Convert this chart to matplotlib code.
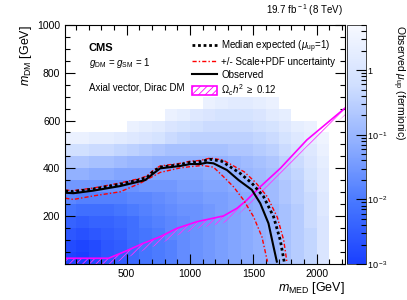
import numpy as np
import matplotlib
matplotlib.use("Agg")
import matplotlib.pyplot as plt
from matplotlib.colors import LogNorm, LinearSegmentedColormap
from matplotlib.lines import Line2D
from matplotlib.patches import Patch
from matplotlib.ticker import MultipleLocator, LogLocator, FixedLocator, FixedFormatter

plt.rcParams['font.family'] = ['Liberation Sans', 'DejaVu Sans']
plt.rcParams['mathtext.fontset'] = 'custom'
plt.rcParams['mathtext.rm'] = 'Liberation Sans'
plt.rcParams['mathtext.it'] = 'Liberation Sans:italic'
plt.rcParams['hatch.linewidth'] = 0.6

# bin edges of the observed mu_up map
med_edges = np.arange(0, 2101, 100)
dm_edges = np.arange(0, 701, 50)

# log10(mu_up), rows from m_DM 650-700 (top) down to 0-50 (bottom), nan = empty
N = np.nan
log_mu = [
    [N, N, N, N, N, N, N, N, N, N, N, 0.4, 0.3, 0.2, 0.2, 0.3, 0.4, N, N, N, N],
    [N, N, N, N, N, N, N, N, 0.4, 0.3, 0.1, 0.0, -0.1, -0.1, -0.1, 0.0, 0.2, 0.3, N, N, N],
    [N, N, N, N, N, 0.4, 0.3, 0.2, 0.0, -0.1, -0.2, -0.3, -0.3, -0.3, -0.3, -0.2, -0.1, 0.1, 0.3, 0.4, N],
    [0.4, 0.4, 0.3, 0.3, 0.2, 0.1, 0.0, -0.1, -0.3, -0.4, -0.5, -0.5, -0.5, -0.5, -0.5, -0.4, -0.3, -0.1, 0.1, 0.3, 0.5],
    [-0.2, -0.2, -0.3, -0.3, -0.4, -0.5, -0.6, -0.7, -0.8, -0.8, -0.8, -0.8, -0.8, -0.7, -0.7, -0.6, -0.5, -0.3, -0.1, 0.1, 0.4],
    [-0.7, -0.7, -0.8, -0.8, -0.9, -1.0, -1.0, -1.1, -1.1, -1.1, -1.1, -1.1, -1.1, -1.0, -0.9, -0.8, -0.7, -0.5, -0.3, 0.0, 0.3],
    [-1.1, -1.1, -1.2, -1.2, -1.3, -1.3, -1.3, -1.3, -1.3, -1.3, -1.3, -1.2, -1.2, -1.1, -1.0, -0.9, -0.8, -0.6, -0.4, -0.1, 0.2],
    [-1.5, -1.5, -1.5, -1.6, -1.6, -1.6, -1.5, -1.5, -1.5, -1.4, -1.4, -1.3, -1.3, -1.2, -1.1, -1.0, -0.9, -0.7, -0.5, -0.2, 0.2],
    [-1.8, -1.9, -1.9, -1.9, -1.9, -1.8, -1.8, -1.7, -1.6, -1.5, -1.5, -1.4, -1.4, -1.3, -1.2, -1.1, -0.9, -0.7, -0.5, -0.3, 0.1],
    [-2.1, -2.2, -2.2, -2.2, -2.1, -2.0, -1.9, -1.8, -1.7, -1.6, -1.6, -1.5, -1.4, -1.3, -1.2, -1.1, -1.0, -0.8, -0.6, -0.3, 0.1],
    [-2.4, -2.5, -2.4, -2.4, -2.3, -2.2, -2.0, -1.9, -1.8, -1.7, -1.6, -1.5, -1.4, -1.3, -1.2, -1.1, -1.0, -0.8, -0.6, -0.3, 0.0],
    [-2.6, -2.7, -2.6, -2.5, -2.4, -2.2, -2.1, -2.0, -1.8, -1.7, -1.6, -1.5, -1.4, -1.3, -1.2, -1.1, -1.0, -0.8, -0.6, -0.4, 0.0],
    [-2.8, -2.9, -2.8, -2.6, -2.5, -2.3, -2.1, -2.0, -1.9, -1.7, -1.6, -1.5, -1.4, -1.3, -1.2, -1.1, -1.0, -0.8, -0.6, -0.4, 0.0],
    [-2.9, -3.0, -2.8, -2.6, -2.5, -2.3, -2.1, -2.0, -1.9, -1.7, -1.6, -1.5, -1.4, -1.3, -1.2, -1.1, -1.0, -0.8, -0.6, -0.4, 0.0],
]

# observed limit contour
obs_med = [16, 81, 240, 450, 647, 713, 765, 923, 1002, 1081, 1134, 1186, 1292, 1384, 1489, 1555, 1620, 1660, 1686]
obs_dm = [298, 296, 307, 326, 351, 379, 400, 410, 418, 418, 424, 421, 393, 351, 310, 254, 170, 72, 10]

# median expected
exp_med = [16, 81, 240, 450, 600, 660, 713, 765, 923, 1002, 1081, 1160, 1250, 1397, 1489, 1581, 1660, 1713, 1744]
exp_dm = [305, 303, 314, 334, 352, 362, 388, 405, 416, 425, 428, 438, 430, 379, 338, 282, 198, 100, 10]

# scale+pdf band, upper and lower
up_med = [16, 81, 240, 450, 600, 660, 713, 765, 923, 1002, 1081, 1160, 1260, 1430, 1520, 1610, 1690, 1740, 1765]
up_dm = [309, 307, 318, 339, 357, 368, 393, 410, 421, 430, 433, 443, 435, 385, 340, 282, 195, 100, 10]
lo_med = [16, 81, 240, 450, 608, 765, 923, 1002, 1100, 1186, 1265, 1344, 1423, 1502, 1568, 1612]
lo_dm = [275, 270, 285, 302, 338, 383, 402, 407, 412, 405, 365, 323, 268, 198, 114, 10]

# relic density line
rel_med = [16, 358, 503, 634, 765, 897, 1055, 1265, 1371, 1450, 1555, 1713, 1923, 2226]
rel_dm = [24, 24, 56, 87, 114, 149, 177, 201, 233, 268, 323, 400, 519, 653]

cmap = LinearSegmentedColormap.from_list(
    "mu", ["#1a40ff", "#4676ff", "#8eaeff", "#d0dfff", "#f7f9ff"])
norm = LogNorm(1e-3, 5)

fig = plt.figure(figsize=(4.07, 3.0), dpi=100)
ax = fig.add_axes([0.160, 0.12, 0.688, 0.797])
cax = fig.add_axes([0.853, 0.12, 0.046, 0.797])

mu = 10 ** np.array(log_mu)[::-1]
mesh = ax.pcolormesh(med_edges, dm_edges, np.ma.masked_invalid(mu), cmap=cmap, norm=norm)

ax.fill_between(rel_med, np.array(rel_dm) - 30, rel_dm, facecolor="none",
                edgecolor="#ff33ff", hatch="/////", linewidth=0)
ax.plot(rel_med, rel_dm, color="#ff00ff", lw=1.2)
ax.plot(up_med, up_dm, color="red", lw=1.0, ls=(0, (3, 1.5, 1, 1.5)))
ax.plot(lo_med, lo_dm, color="red", lw=1.0, ls=(0, (3, 1.5, 1, 1.5)))
ax.plot(obs_med, obs_dm, color="black", lw=1.5)
ax.plot(exp_med, exp_dm, color="black", lw=2.0, ls=(0, (1, 1)))

ax.set_xlim(15, 2225)
ax.set_ylim(0, 1000)
ax.xaxis.set_major_locator(FixedLocator([500, 1000, 1500, 2000]))
ax.xaxis.set_minor_locator(MultipleLocator(100))
ax.yaxis.set_major_locator(MultipleLocator(200))
ax.yaxis.set_minor_locator(MultipleLocator(50))
ax.tick_params(which="both", direction="in", top=True, right=True, labelsize=7.5, width=0.8)
ax.tick_params(which="major", length=7)
ax.tick_params(which="minor", length=3.5)
ax.set_yticks([200, 400, 600, 800, 1000])
for s in ax.spines.values():
    s.set_linewidth(0.8)

ax.set_xlabel(r"$m_{\rm MED}$ [GeV]", fontsize=9, loc="right", labelpad=1)
ax.set_ylabel(r"$m_{\rm DM}$ [GeV]", fontsize=9, loc="top", labelpad=2)

ax.text(0.085, 0.905, "CMS", transform=ax.transAxes, fontsize=8, fontweight="bold", va="center")
ax.text(0.085, 0.84, r"$g_{\rm DM}$ = $g_{\rm SM}$ = 1", transform=ax.transAxes, fontsize=7, va="center")
ax.text(0.085, 0.74, "Axial vector, Dirac DM", transform=ax.transAxes, fontsize=7, va="center")
fig.text(0.843, 0.965, r"19.7 fb$^{\rm -1}$ (8 TeV)", ha="right", va="center", fontsize=7)

handles = [
    Line2D([], [], color="black", lw=2.0, ls=(0, (1, 1))),
    Line2D([], [], color="red", lw=1.0, ls=(0, (3, 1.5, 1, 1.5))),
    Line2D([], [], color="black", lw=1.5),
    Patch(facecolor="none", edgecolor="#ff00ff", hatch="/////", lw=1.2),
]
labels = [r"Median expected ($\mu_{\rm up}$=1)", "+/- Scale+PDF uncertainty",
          "Observed", r"$\Omega_{c}h^{2}$ $\geq$ 0.12"]
ax.legend(handles, labels, loc="upper left", bbox_to_anchor=(0.44, 0.96), frameon=False,
          fontsize=7, handlelength=2.6, handleheight=1.1, handletextpad=0.4,
          labelspacing=0.25, borderaxespad=0)

cb = fig.colorbar(mesh, cax=cax)
cb.outline.set_linewidth(0.5)
cax.yaxis.set_major_locator(FixedLocator([1e-3, 1e-2, 1e-1, 1]))
cax.yaxis.set_major_formatter(FixedFormatter([r"10$^{\rm -3}$", r"10$^{\rm -2}$", r"10$^{\rm -1}$", "1"]))
cax.yaxis.set_minor_locator(LogLocator(subs=np.arange(2, 10)))
cax.tick_params(which="both", direction="in", right=True, labelsize=6.5, width=0.8, pad=1)
cax.tick_params(which="major", length=7)
cax.tick_params(which="minor", length=3.5)
cax.yaxis.set_minor_formatter(FixedFormatter([]))
fig.text(0.978, 0.917, r"Observed $\mu_{\rm up}$ (fermionic)", rotation=270,
         ha="center", va="top", fontsize=7.5)

fig.savefig("out.png", dpi=100)
